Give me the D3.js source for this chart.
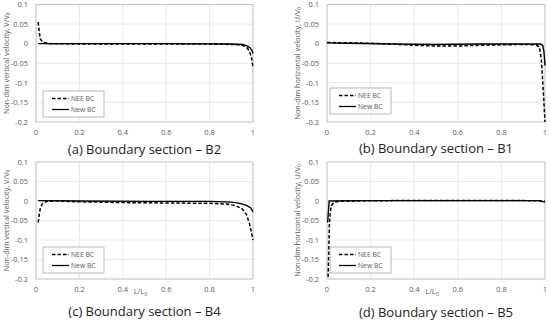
<!DOCTYPE html>
<html>
<head>
<meta charset="utf-8">
<script src="https://cdn.jsdelivr.net/npm/d3@7"></script>
<style>
	body { margin: 0; background: white; }
	svg { font-family: "Open Sans", sans-serif; }
</style>
</head>
<body>
<svg id="chart" width="550" height="320"></svg>
<script>
// Tick values shared by all four panels.
let xTicks = [0, 0.2, 0.4, 0.6, 0.8, 1];
let yTicks = [0.1, 0.05, 0, -0.05, -0.1, -0.15, -0.2];

// Panel (a) B2, vertical velocity.
let b2Nee = [[0.01,0.055],[0.015,0.03],[0.02,0.012],[0.03,0.005],[0.045,0.002],[0.07,0],[0.2,-0.001],[0.5,-0.001],[0.8,-0.001],[0.9,-0.002],[0.94,-0.003],[0.96,-0.006],[0.975,-0.012],[0.985,-0.022],[0.993,-0.035],[1,-0.06]];
let b2New = [[0.01,0],[0.3,0],[0.6,0],[0.9,-0.001],[0.95,-0.002],[0.97,-0.005],[0.985,-0.01],[0.995,-0.017],[1,-0.025]];

// Panel (b) B1, horizontal velocity.
let b1Nee = [[0,0.003],[0.1,0.002],[0.2,0.001],[0.3,-0.001],[0.4,-0.004],[0.5,-0.006],[0.6,-0.006],[0.7,-0.004],[0.8,-0.003],[0.9,-0.002],[0.96,-0.003],[0.975,-0.01],[0.983,-0.04],[0.99,-0.1],[0.995,-0.15],[1,-0.2]];
let b1New = [[0,0.002],[0.1,0.001],[0.3,-0.001],[0.5,-0.002],[0.7,-0.001],[0.9,-0.001],[0.98,-0.001],[0.99,-0.005],[0.995,-0.02],[1,-0.056]];

// Panel (c) B4, vertical velocity.
let b4Nee = [[0.01,-0.055],[0.015,-0.035],[0.02,-0.018],[0.03,-0.006],[0.05,-0.001],[0.1,0],[0.2,-0.002],[0.4,-0.004],[0.6,-0.005],[0.8,-0.006],[0.88,-0.008],[0.92,-0.012],[0.95,-0.02],[0.97,-0.035],[0.985,-0.06],[1,-0.1]];
let b4New = [[0.01,0.001],[0.2,0],[0.5,-0.001],[0.8,-0.001],[0.9,-0.003],[0.94,-0.006],[0.97,-0.011],[0.99,-0.018],[1,-0.028]];

// Panel (d) B5, horizontal velocity.
let b5Nee = [[0.005,-0.195],[0.008,-0.13],[0.011,-0.06],[0.015,-0.028],[0.02,-0.012],[0.03,-0.005],[0.05,-0.001],[0.08,0],[0.3,0.001],[0.6,0.001],[0.9,0.001],[1,0]];
let b5New = [[0.003,-0.055],[0.006,-0.03],[0.01,0],[0.2,0.001],[0.5,0.001],[0.8,0.001],[0.97,0.001],[1,-0.003]];

let legendNames = ["NEE BC", "New BC"];

let panels = [
	{nee: b2Nee, nw: b2New, left: 36, right: 253, top: 4.5, bottom: 122, title: "(a) Boundary section \u2013 B2", ylab: "vertical velocity, V/V", xlab: false, titleY: 154, legend: [43, 91]},
	{nee: b1Nee, nw: b1New, left: 327, right: 545, top: 4.5, bottom: 122, title: "(b) Boundary section \u2013 B1", ylab: "horizontal velocity, U/V", xlab: false, titleY: 153, legend: [330, 88]},
	{nee: b4Nee, nw: b4New, left: 36, right: 253, top: 162, bottom: 279, title: "(c) Boundary section \u2013 B4", ylab: "vertical velocity, V/V", xlab: true, titleY: 316, legend: [43, 247]},
	{nee: b5Nee, nw: b5New, left: 327, right: 545, top: 162, bottom: 279, title: "(d) Boundary section \u2013 B5", ylab: "horizontal velocity, U/V", xlab: true, titleY: 317, legend: [330, 247]}
];

let svg = d3.select("#chart");
let tickColor = "#595959";

panels.forEach(p=>{
	let x = d3.scaleLinear().domain([0, 1]).range([p.left, p.right]);
	let y = d3.scaleLinear().domain([-0.2, 0.1]).range([p.bottom, p.top]);
	let g = svg.append("g");

	// Gridlines.
	g.selectAll("line.vgrid").data(xTicks).enter().append("line")
		.attr("x1", d=>x(d)).attr("x2", d=>x(d))
		.attr("y1", p.top).attr("y2", p.bottom)
		.attr("stroke", "#e3e3e3").attr("stroke-width", 0.8);
	g.selectAll("line.hgrid").data(yTicks).enter().append("line")
		.attr("x1", p.left).attr("x2", p.right)
		.attr("y1", d=>y(d)).attr("y2", d=>y(d))
		.attr("stroke", "#e3e3e3").attr("stroke-width", 0.8);

	// Plot area border.
	g.append("rect")
		.attr("x", p.left).attr("y", p.top)
		.attr("width", p.right - p.left).attr("height", p.bottom - p.top)
		.attr("fill", "none").attr("stroke", "#bfbfbf").attr("stroke-width", 0.8);

	// Tick labels.
	g.selectAll("text.xt").data(xTicks).enter().append("text")
		.attr("x", d=>x(d)).attr("y", p.bottom + 13)
		.attr("text-anchor", "middle").attr("font-size", 7.5).attr("fill", tickColor)
		.text(d=>d);
	g.selectAll("text.yt").data(yTicks).enter().append("text")
		.attr("x", p.left - 8).attr("y", d=>y(d) + 2.7)
		.attr("text-anchor", "end").attr("font-size", 7.5).attr("fill", tickColor)
		.text(d=>d);

	// Y axis title with subscript.
	let yt = g.append("text")
		.attr("transform", `translate(${p.left - 27.5},${(p.top + p.bottom) / 2}) rotate(-90)`)
		.attr("text-anchor", "middle").attr("font-size", 7.3).attr("fill", tickColor);
	yt.append("tspan").text("Non-dim " + p.ylab);
	yt.append("tspan").attr("font-size", 5).attr("dy", 1.5).text("0");

	// X axis title.
	if(p.xlab){
		let xt = g.append("text")
			.attr("x", (x(0.4) + x(0.6)) / 2 - 4).attr("y", p.bottom + 15)
			.attr("text-anchor", "middle").attr("font-size", 7.5).attr("fill", tickColor);
		xt.append("tspan").text("L/L");
		xt.append("tspan").attr("font-size", 5.5).attr("dy", 1.5).text("0");
	} // if

	// Series.
	let line = d3.line().x(d=>x(d[0])).y(d=>y(d[1]));
	g.append("path").datum(p.nee)
		.attr("d", line)
		.attr("fill", "none").attr("stroke", "#000").attr("stroke-width", 1.5)
		.attr("stroke-dasharray", "3.5,2");
	g.append("path").datum(p.nw)
		.attr("d", line)
		.attr("fill", "none").attr("stroke", "#000").attr("stroke-width", 1.4);

	// Legend.
	let [lx, ly] = p.legend;
	g.append("rect")
		.attr("x", lx).attr("y", ly).attr("width", 61).attr("height", 26)
		.attr("fill", "white").attr("stroke", "#a6a6a6").attr("stroke-width", 0.8);
	legendNames.forEach((name, i)=>{
		let yy = ly + 7.5 + i * 11;
		g.append("line")
			.attr("x1", lx + 9).attr("x2", lx + 26)
			.attr("y1", yy).attr("y2", yy)
			.attr("stroke", "#000").attr("stroke-width", 1.3)
			.attr("stroke-dasharray", i == 0 ? "3.5,2" : null);
		g.append("text")
			.attr("x", lx + 28).attr("y", yy + 2.5)
			.attr("font-size", 6.8).attr("fill", tickColor)
			.text(name);
	});

	// Panel caption.
	g.append("text")
		.attr("x", (p.left + p.right) / 2).attr("y", p.titleY)
		.attr("text-anchor", "middle").attr("font-size", 13).attr("fill", "#222")
		.text(p.title);
});
</script>
</body>
</html>
